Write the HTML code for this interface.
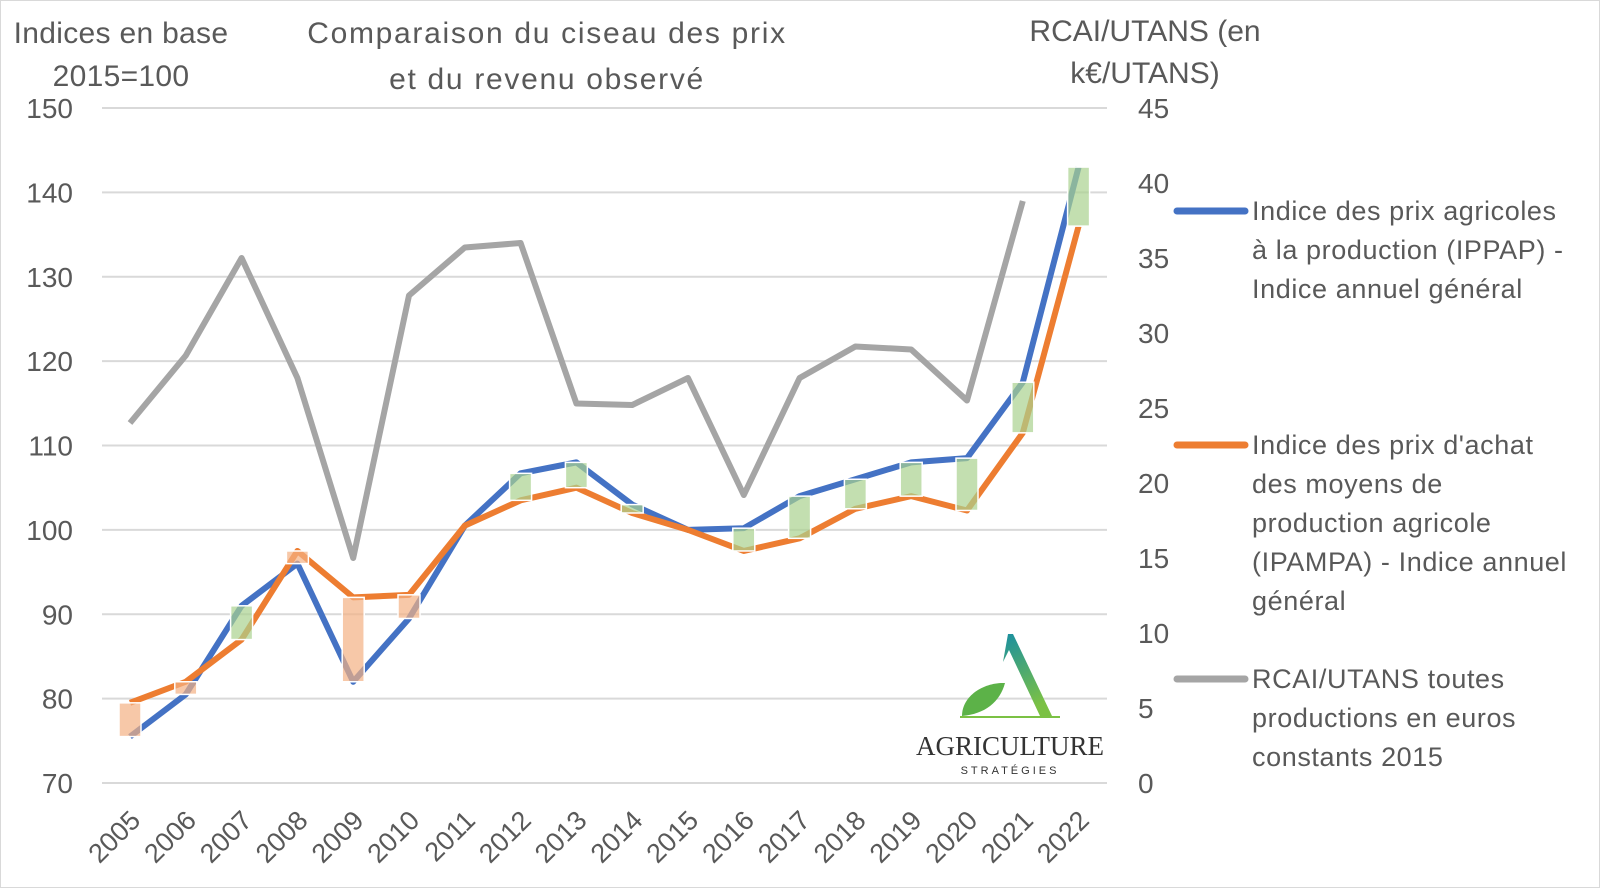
<!DOCTYPE html>
<html><head><meta charset="utf-8"><style>
html,body{margin:0;padding:0;background:#fff}
svg{display:block;font-family:"Liberation Sans",sans-serif}
</style></head><body>
<svg id="c" width="1600" height="888" viewBox="0 0 1600 888" xmlns="http://www.w3.org/2000/svg">
<defs>
<linearGradient id="g" x1="0" y1="0" x2="0.3" y2="1"><stop offset="0" stop-color="#1a8fa0"/><stop offset="1" stop-color="#7bc144"/></linearGradient>
</defs>
<rect x="0.5" y="0.5" width="1599" height="887" fill="#fff" stroke="#d9d9d9"/>
<g id="grid"></g>
<g id="lines"></g>
<g fill="#595959" font-size="30" text-anchor="middle">
<text x="121" y="43" letter-spacing="0.3">Indices en base</text>
<text x="121" y="86" letter-spacing="0.3">2015=100</text>
<text x="547" y="43" letter-spacing="1.7">Comparaison du ciseau des prix</text>
<text x="547" y="89" letter-spacing="1.7">et du revenu observé</text>
<text x="1145" y="41" letter-spacing="0">RCAI/UTANS (en</text>
<text x="1145" y="83" letter-spacing="0">k€/UTANS)</text>
</g>
<g stroke-width="7" stroke-linecap="round">
<line x1="1177" y1="211" x2="1245" y2="211" stroke="#4472c4"/>
<line x1="1177" y1="445" x2="1245" y2="445" stroke="#ed7d31"/>
<line x1="1177" y1="679" x2="1245" y2="679" stroke="#a5a5a5"/>
</g>
<g fill="#595959" font-size="27" letter-spacing="0.6">
<text x="1252" y="220">Indice des prix agricoles</text>
<text x="1252" y="259">à la production (IPPAP) -</text>
<text x="1252" y="298">Indice annuel général</text>
<text x="1252" y="454">Indice des prix d'achat</text>
<text x="1252" y="493">des moyens de</text>
<text x="1252" y="532">production agricole</text>
<text x="1252" y="571">(IPAMPA) - Indice annuel</text>
<text x="1252" y="610">général</text>
<text x="1252" y="688">RCAI/UTANS toutes</text>
<text x="1252" y="727">productions en euros</text>
<text x="1252" y="766">constants 2015</text>
</g>
<g>
<polygon points="1008,634 1013,634 1052,716 1040,716 1009,650 1003,662" fill="url(#g)"/>
<path d="M962,716 C962,695 985,682 1005,683 C1000,702 985,714 962,716 Z" fill="#5cb248"/>
<line x1="960" y1="717" x2="1060" y2="717" stroke="#7bc144" stroke-width="2"/>
<text x="1010" y="755" font-family="Liberation Serif,serif" font-size="27" text-anchor="middle" fill="#333">AGRICULTURE</text>
<text x="1010" y="774" font-size="11" letter-spacing="3" text-anchor="middle" fill="#333">STRATÉGIES</text>
</g>
</svg>
<script>
var ns="http://www.w3.org/2000/svg";
function el(p,t,a,txt){var e=document.createElementNS(ns,t);for(var k in a)e.setAttribute(k,a[k]);if(txt!=null)e.textContent=txt;document.getElementById(p).appendChild(e);return e;}
function yl(v){return 783-(v-70)*8.4375;}
function yr(v){return 783-v*15;}
function xs(i){return 130+i*55.8;}
for(var v=70;v<=150;v+=10){var yy=yl(v);
el("grid","line",{x1:102,x2:1107,y1:yy,y2:yy,stroke:"#d9d9d9","stroke-width":2});
el("grid","text",{x:73,y:yy+10,"text-anchor":"end","font-size":28,fill:"#595959"},v);}
for(var r=0;r<=45;r+=5){el("grid","text",{x:1138,y:yr(r)+10,"font-size":28,fill:"#595959"},r);}
for(var i=0;i<18;i++){var xx=xs(i)+12,y0=822;
el("grid","text",{x:xx,y:y0,"text-anchor":"end","font-size":27,fill:"#595959",transform:"rotate(-45 "+xx+" "+y0+")"},2005+i);}
var A=[75.5,80.5,91,96,82,89.5,100.5,106.7,108,103,100,100.2,104,106,108,108.5,117.5,143];
var B=[79.5,82,87,97.5,92,92.3,100.5,103.5,105,102,100,97.5,99,102.5,104,102.3,111.5,136];
var R=[24,28.5,35,27,15,32.5,35.7,36,25.3,25.2,27,19.2,27,29.1,28.9,25.5,38.8];
function pts(arr,f){return arr.map(function(v,i){return xs(i)+","+f(v);}).join(" ");}
el("lines","polyline",{points:pts(R,yr),fill:"none",stroke:"#a5a5a5","stroke-width":6,"stroke-linejoin":"round"});
el("lines","polyline",{points:pts(A,yl),fill:"none",stroke:"#4472c4","stroke-width":6,"stroke-linejoin":"round"});
el("lines","polyline",{points:pts(B,yl),fill:"none",stroke:"#ed7d31","stroke-width":6,"stroke-linejoin":"round"});
for(var i=0;i<18;i++){var a=yl(A[i]),b=yl(B[i]);if(Math.abs(a-b)<2)continue;
var tp=Math.min(a,b),hh=Math.abs(a-b);
el("lines","rect",{x:xs(i)-11,y:tp,width:22,height:hh,fill:A[i]>B[i]?"#a9d18e":"#f4b183","fill-opacity":0.7,stroke:"#fff","stroke-width":1.5});}
</script>
</body></html>
